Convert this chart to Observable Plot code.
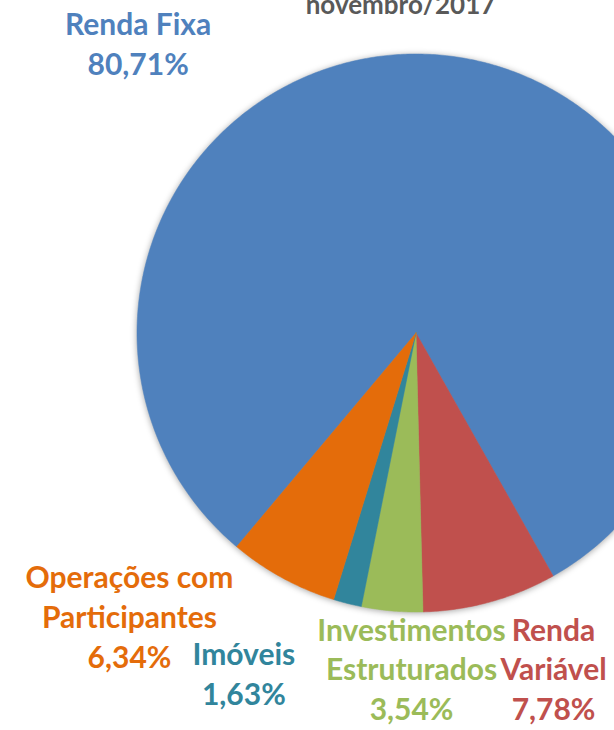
<!DOCTYPE html>
<html>
<head>
<meta charset="utf-8">
<script src="https://cdn.jsdelivr.net/npm/d3@7"></script>
<script src="https://cdn.jsdelivr.net/npm/@observablehq/plot@0.6"></script>
<style>
  html, body { margin: 0; padding: 0; background: #fff; }
  #chart svg { display: block; }
</style>
</head>
<body>
<div id="chart"></div>
<script>
// ---- data ----
const title = "novembro/2017";
const categories = ["Renda Fixa", "Renda Variável", "Investimentos Estruturados", "Imóveis", "Operações com Participantes"];
const shares = [80.71, 7.78, 3.54, 1.63, 6.34];
const labelNames = ["Renda Fixa", "Renda\nVariável", "Investimentos\nEstruturados", "Imóveis", "Operações com\nParticipantes"];
const colors = ["#4F81BD", "#C0504D", "#9BBB59", "#31859C", "#E46C0A"];

// ---- layout (pie of radius 1 centred at 0,0) ----
const W = 614, H = 730;
const cx = 415.5, cy = 332.5, R = 279;
const startDeg = 220; // first slice angle, clockwise from 12 o'clock
const labelAt = [ // label anchor (top of first line), in pie-radius units
  [-0.996, 1.168],
  [0.493, -1.001],
  [-0.016, -1.001],
  [-0.617, -1.090],
  [-1.027, -0.814]
];

const total = d3.sum(shares);
const pts = [];
let acc = startDeg;
categories.forEach((c, i) => {
  const a0 = acc, a1 = acc + shares[i] / total * 360;
  acc = a1;
  pts.push({cat: c, x: 0, y: 0});
  const n = Math.max(2, Math.ceil((a1 - a0) / 0.5));
  for (let k = 0; k <= n; k++) {
    const a = (a0 + (a1 - a0) * k / n) * Math.PI / 180;
    pts.push({cat: c, x: Math.sin(a), y: Math.cos(a)});
  }
  pts.push({cat: c, x: 0, y: 0});
});

const fmt = v => v.toFixed(2).replace(".", ",") + "%";
const labels = categories.map((c, i) => ({
  cat: c,
  text: labelNames[i] + "\n" + fmt(shares[i]),
  x: labelAt[i][0],
  y: labelAt[i][1]
}));

const fs = 30;
const chart = Plot.plot({
  width: W,
  height: H,
  margin: 0,
  x: {domain: [-cx / R, (W - cx) / R], axis: null},
  y: {domain: [-(H - cy) / R, cy / R], axis: null},
  color: {domain: categories, range: colors},
  style: {fontFamily: "Lato, 'Open Sans', sans-serif", background: "#fff"},
  marks: [
    Plot.line(pts, {
      x: "x", y: "y", z: "cat", fill: "cat", stroke: "cat", strokeWidth: 0.5,
      curve: "linear",
      imageFilter: "drop-shadow(0px 1px 3px rgba(0,0,0,0.35))"
    }),
    Plot.text(labels, {
      x: "x", y: "y", text: "text", fill: "cat",
      textAnchor: "middle", lineAnchor: "top", lineHeight: 1.33,
      fontSize: fs, fontWeight: "bold"
    }),
    Plot.text([title], {
      x: [(400 - cx) / R], y: [(cy + 5) / R], text: d => d,
      textAnchor: "middle", lineAnchor: "top",
      fontSize: 26, fontWeight: "bold", fill: "#595959"
    })
  ]
});
document.getElementById("chart").append(chart);
</script>
</body>
</html>
